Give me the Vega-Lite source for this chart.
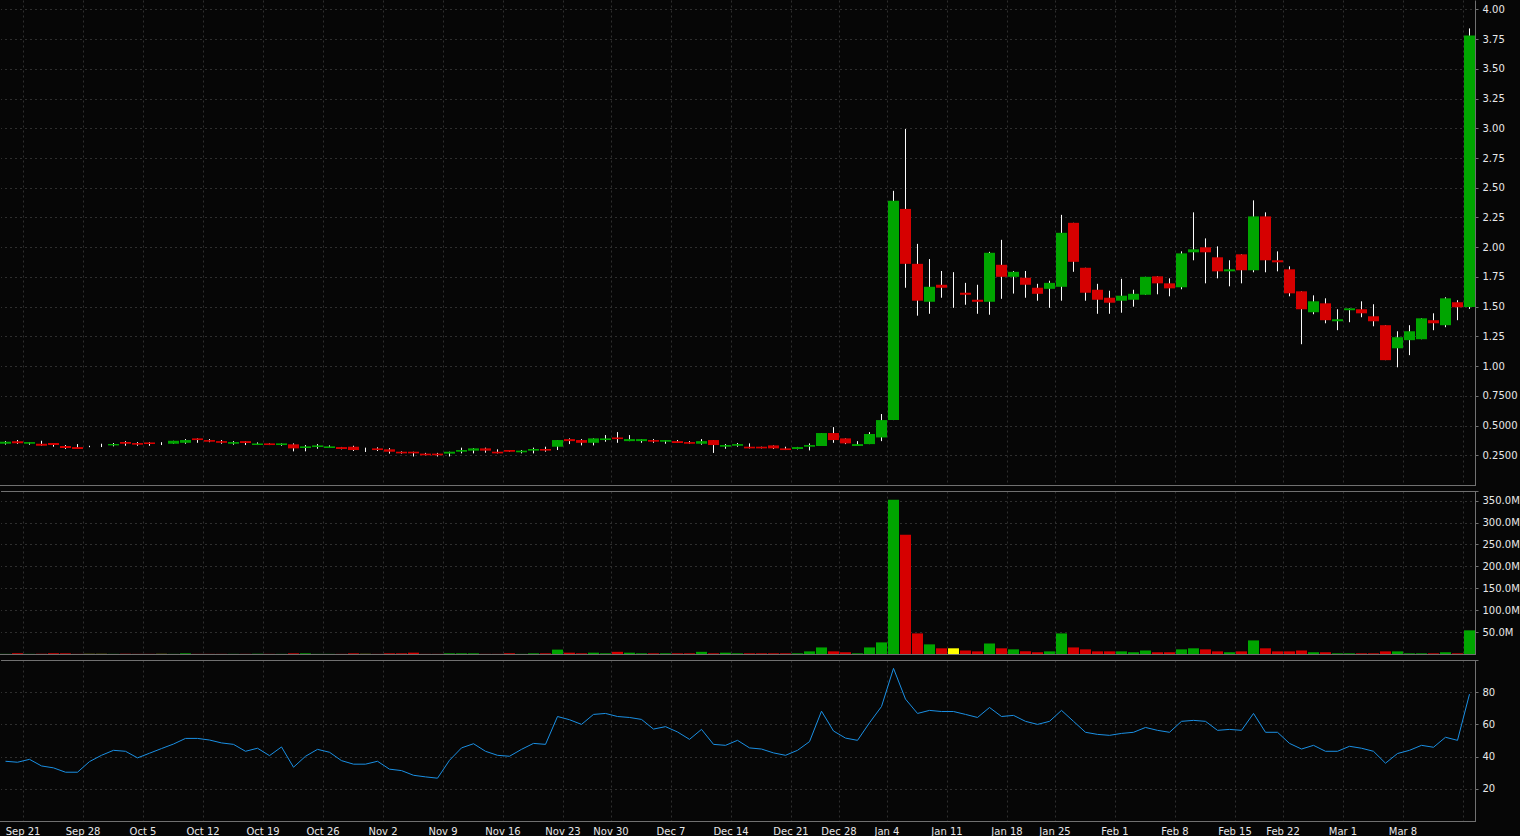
{
  "$schema": "https://vega.github.io/schema/vega-lite/v6.json",
  "background": "#060606",
  "padding": 0,
  "spacing": 5,
  "config": {
    "view": {"stroke": null},
    "axis": {
      "labelFont": "DejaVu Sans",
      "labelFontSize": 10,
      "labelColor": "#e8e8e8",
      "domainColor": "#707070",
      "tickColor": "#707070",
      "gridColor": "#2e2e2e",
      "gridDash": [2, 3],
      "gridWidth": 1,
      "labelOverlap": false
    }
  },
  "data": {
    "values": [
      {"d":"2020-09-17","o":0.347,"h":0.370,"l":0.340,"c":0.364,"v":0.3,"r":37.1},
      {"d":"2020-09-18","o":0.369,"h":0.378,"l":0.346,"c":0.352,"v":1.5,"r":36.5},
      {"d":"2020-09-21","o":0.347,"h":0.361,"l":0.339,"c":0.361,"v":0.3,"r":38.3},
      {"d":"2020-09-22","o":0.347,"h":0.372,"l":0.330,"c":0.330,"v":0.3,"r":34.2},
      {"d":"2020-09-23","o":0.353,"h":0.353,"l":0.322,"c":0.336,"v":1.5,"r":33.0},
      {"d":"2020-09-24","o":0.328,"h":0.336,"l":0.303,"c":0.311,"v":1.5,"r":30.3},
      {"d":"2020-09-25","o":0.319,"h":0.344,"l":0.303,"c":0.303,"v":0.3,"r":30.3},
      {"d":"2020-09-28","o":0.322,"h":0.330,"l":0.318,"c":0.322,"v":0.3,"r":36.9},
      {"d":"2020-09-29","o":0.330,"h":0.347,"l":0.319,"c":0.330,"v":0.3,"r":40.8},
      {"d":"2020-09-30","o":0.333,"h":0.353,"l":0.325,"c":0.345,"v":0.3,"r":43.9},
      {"d":"2020-10-01","o":0.361,"h":0.369,"l":0.330,"c":0.347,"v":0.3,"r":43.3},
      {"d":"2020-10-02","o":0.353,"h":0.361,"l":0.330,"c":0.339,"v":0.3,"r":39.2},
      {"d":"2020-10-05","o":0.358,"h":0.360,"l":0.330,"c":0.345,"v":0.3,"r":42.1},
      {"d":"2020-10-06","o":0.345,"h":0.360,"l":0.336,"c":0.345,"v":0.3,"r":45.0},
      {"d":"2020-10-07","o":0.347,"h":0.372,"l":0.347,"c":0.372,"v":0.3,"r":47.8},
      {"d":"2020-10-08","o":0.355,"h":0.386,"l":0.347,"c":0.378,"v":1.5,"r":51.3},
      {"d":"2020-10-09","o":0.392,"h":0.392,"l":0.355,"c":0.378,"v":0.3,"r":51.3},
      {"d":"2020-10-12","o":0.378,"h":0.386,"l":0.360,"c":0.364,"v":0.3,"r":50.3},
      {"d":"2020-10-13","o":0.369,"h":0.378,"l":0.347,"c":0.355,"v":0.3,"r":48.5},
      {"d":"2020-10-14","o":0.347,"h":0.369,"l":0.339,"c":0.361,"v":0.3,"r":47.6},
      {"d":"2020-10-15","o":0.369,"h":0.369,"l":0.336,"c":0.353,"v":0.3,"r":43.3},
      {"d":"2020-10-16","o":0.336,"h":0.358,"l":0.336,"c":0.350,"v":0.3,"r":45.2},
      {"d":"2020-10-19","o":0.350,"h":0.350,"l":0.336,"c":0.336,"v":0.3,"r":40.6},
      {"d":"2020-10-20","o":0.336,"h":0.350,"l":0.330,"c":0.350,"v":0.3,"r":46.0},
      {"d":"2020-10-21","o":0.342,"h":0.350,"l":0.283,"c":0.308,"v":1.5,"r":33.4},
      {"d":"2020-10-22","o":0.311,"h":0.336,"l":0.283,"c":0.325,"v":1.5,"r":40.2},
      {"d":"2020-10-23","o":0.319,"h":0.344,"l":0.305,"c":0.333,"v":0.3,"r":44.5},
      {"d":"2020-10-26","o":0.311,"h":0.333,"l":0.311,"c":0.325,"v":0.3,"r":42.7},
      {"d":"2020-10-27","o":0.319,"h":0.320,"l":0.300,"c":0.303,"v":0.3,"r":37.5},
      {"d":"2020-10-28","o":0.322,"h":0.330,"l":0.286,"c":0.294,"v":1.5,"r":35.3},
      {"d":"2020-10-29","o":0.290,"h":0.314,"l":0.278,"c":0.290,"v":0.3,"r":35.3},
      {"d":"2020-10-30","o":0.308,"h":0.317,"l":0.286,"c":0.294,"v":0.3,"r":37.1},
      {"d":"2020-11-02","o":0.300,"h":0.310,"l":0.264,"c":0.280,"v":1.5,"r":32.2},
      {"d":"2020-11-03","o":0.280,"h":0.283,"l":0.264,"c":0.266,"v":1.5,"r":31.3},
      {"d":"2020-11-04","o":0.280,"h":0.280,"l":0.240,"c":0.266,"v":3,"r":28.4},
      {"d":"2020-11-05","o":0.264,"h":0.270,"l":0.250,"c":0.250,"v":0.3,"r":27.4},
      {"d":"2020-11-06","o":0.264,"h":0.270,"l":0.240,"c":0.250,"v":0.3,"r":26.6},
      {"d":"2020-11-09","o":0.264,"h":0.280,"l":0.240,"c":0.280,"v":1.5,"r":37.7},
      {"d":"2020-11-10","o":0.280,"h":0.314,"l":0.266,"c":0.294,"v":1.5,"r":45.4},
      {"d":"2020-11-11","o":0.289,"h":0.310,"l":0.266,"c":0.308,"v":1.5,"r":48.0},
      {"d":"2020-11-12","o":0.308,"h":0.314,"l":0.272,"c":0.289,"v":0.3,"r":43.3},
      {"d":"2020-11-13","o":0.280,"h":0.300,"l":0.266,"c":0.266,"v":0.3,"r":40.8},
      {"d":"2020-11-16","o":0.294,"h":0.294,"l":0.280,"c":0.280,"v":1.5,"r":40.2},
      {"d":"2020-11-17","o":0.275,"h":0.294,"l":0.266,"c":0.289,"v":0.3,"r":44.5},
      {"d":"2020-11-18","o":0.289,"h":0.314,"l":0.266,"c":0.303,"v":1.5,"r":48.2},
      {"d":"2020-11-19","o":0.303,"h":0.322,"l":0.280,"c":0.289,"v":1.5,"r":47.6},
      {"d":"2020-11-20","o":0.322,"h":0.378,"l":0.294,"c":0.378,"v":10,"r":64.9},
      {"d":"2020-11-23","o":0.386,"h":0.392,"l":0.344,"c":0.369,"v":3,"r":62.9},
      {"d":"2020-11-24","o":0.378,"h":0.386,"l":0.333,"c":0.355,"v":1.5,"r":60.0},
      {"d":"2020-11-25","o":0.355,"h":0.392,"l":0.333,"c":0.392,"v":3,"r":66.2},
      {"d":"2020-11-27","o":0.378,"h":0.420,"l":0.364,"c":0.392,"v":1.5,"r":66.8},
      {"d":"2020-11-30","o":0.400,"h":0.445,"l":0.355,"c":0.386,"v":5,"r":64.9},
      {"d":"2020-12-01","o":0.369,"h":0.420,"l":0.369,"c":0.386,"v":3,"r":64.3},
      {"d":"2020-12-02","o":0.369,"h":0.386,"l":0.355,"c":0.386,"v":1.5,"r":63.1},
      {"d":"2020-12-03","o":0.378,"h":0.386,"l":0.355,"c":0.364,"v":1.5,"r":57.1},
      {"d":"2020-12-04","o":0.364,"h":0.378,"l":0.347,"c":0.378,"v":1.5,"r":58.6},
      {"d":"2020-12-07","o":0.369,"h":0.378,"l":0.353,"c":0.353,"v":1.5,"r":55.3},
      {"d":"2020-12-08","o":0.361,"h":0.369,"l":0.347,"c":0.347,"v":1.5,"r":50.7},
      {"d":"2020-12-09","o":0.347,"h":0.386,"l":0.339,"c":0.369,"v":5,"r":56.9},
      {"d":"2020-12-10","o":0.378,"h":0.378,"l":0.270,"c":0.336,"v":1.5,"r":47.6},
      {"d":"2020-12-11","o":0.322,"h":0.344,"l":0.305,"c":0.336,"v":3,"r":47.0},
      {"d":"2020-12-14","o":0.330,"h":0.353,"l":0.322,"c":0.344,"v":1.5,"r":50.1},
      {"d":"2020-12-15","o":0.322,"h":0.350,"l":0.308,"c":0.308,"v":1.5,"r":45.4},
      {"d":"2020-12-16","o":0.322,"h":0.322,"l":0.308,"c":0.308,"v":1.5,"r":44.7},
      {"d":"2020-12-17","o":0.333,"h":0.333,"l":0.303,"c":0.308,"v":1.5,"r":42.3},
      {"d":"2020-12-18","o":0.308,"h":0.322,"l":0.294,"c":0.294,"v":1.5,"r":40.8},
      {"d":"2020-12-21","o":0.303,"h":0.320,"l":0.300,"c":0.319,"v":1.5,"r":43.9},
      {"d":"2020-12-22","o":0.322,"h":0.350,"l":0.291,"c":0.336,"v":6,"r":49.3},
      {"d":"2020-12-23","o":0.328,"h":0.437,"l":0.328,"c":0.437,"v":15,"r":68.2},
      {"d":"2020-12-24","o":0.437,"h":0.487,"l":0.355,"c":0.378,"v":6,"r":55.9},
      {"d":"2020-12-28","o":0.392,"h":0.392,"l":0.344,"c":0.350,"v":4,"r":51.5},
      {"d":"2020-12-29","o":0.328,"h":0.369,"l":0.328,"c":0.344,"v":1.5,"r":50.1},
      {"d":"2020-12-30","o":0.344,"h":0.445,"l":0.344,"c":0.429,"v":15,"r":61.0},
      {"d":"2020-12-31","o":0.400,"h":0.597,"l":0.369,"c":0.546,"v":26.5,"r":71.1},
      {"d":"2021-01-04","o":0.546,"h":2.474,"l":0.546,"c":2.390,"v":352,"r":94.8},
      {"d":"2021-01-05","o":2.322,"h":2.994,"l":1.659,"c":1.860,"v":272,"r":75.7},
      {"d":"2021-01-06","o":1.860,"h":2.028,"l":1.424,"c":1.550,"v":47,"r":66.8},
      {"d":"2021-01-07","o":1.541,"h":1.900,"l":1.440,"c":1.667,"v":22,"r":68.7},
      {"d":"2021-01-08","o":1.684,"h":1.800,"l":1.575,"c":1.659,"v":13,"r":68.0},
      {"d":"2021-01-11","o":1.650,"h":1.790,"l":1.490,"c":1.650,"v":13,"r":68.0},
      {"d":"2021-01-12","o":1.617,"h":1.700,"l":1.516,"c":1.600,"v":8,"r":66.2},
      {"d":"2021-01-13","o":1.558,"h":1.684,"l":1.440,"c":1.541,"v":6,"r":64.3},
      {"d":"2021-01-14","o":1.541,"h":1.961,"l":1.432,"c":1.953,"v":24,"r":70.5},
      {"d":"2021-01-15","o":1.852,"h":2.062,"l":1.566,"c":1.751,"v":13,"r":64.9},
      {"d":"2021-01-19","o":1.751,"h":1.800,"l":1.610,"c":1.793,"v":10.6,"r":65.6},
      {"d":"2021-01-20","o":1.743,"h":1.800,"l":1.575,"c":1.684,"v":6,"r":61.9},
      {"d":"2021-01-21","o":1.659,"h":1.692,"l":1.550,"c":1.608,"v":4,"r":60.0},
      {"d":"2021-01-22","o":1.650,"h":1.718,"l":1.490,"c":1.700,"v":6,"r":61.9},
      {"d":"2021-01-25","o":1.667,"h":2.272,"l":1.550,"c":2.121,"v":47,"r":68.7},
      {"d":"2021-01-26","o":2.205,"h":2.205,"l":1.793,"c":1.877,"v":15,"r":61.9},
      {"d":"2021-01-27","o":1.827,"h":1.827,"l":1.550,"c":1.617,"v":10.6,"r":55.1},
      {"d":"2021-01-28","o":1.642,"h":1.692,"l":1.440,"c":1.558,"v":6,"r":53.8},
      {"d":"2021-01-29","o":1.575,"h":1.634,"l":1.440,"c":1.533,"v":6,"r":53.2},
      {"d":"2021-02-01","o":1.550,"h":1.734,"l":1.449,"c":1.592,"v":6,"r":54.4},
      {"d":"2021-02-02","o":1.558,"h":1.642,"l":1.500,"c":1.608,"v":4,"r":55.1},
      {"d":"2021-02-03","o":1.600,"h":1.751,"l":1.600,"c":1.751,"v":8,"r":58.1},
      {"d":"2021-02-04","o":1.755,"h":1.755,"l":1.604,"c":1.696,"v":4,"r":56.3},
      {"d":"2021-02-05","o":1.696,"h":1.738,"l":1.587,"c":1.654,"v":4,"r":55.1},
      {"d":"2021-02-08","o":1.663,"h":1.965,"l":1.646,"c":1.948,"v":10.6,"r":61.9},
      {"d":"2021-02-09","o":1.957,"h":2.293,"l":1.890,"c":1.982,"v":13,"r":62.5},
      {"d":"2021-02-10","o":1.999,"h":2.074,"l":1.696,"c":1.957,"v":10.6,"r":61.9},
      {"d":"2021-02-11","o":1.915,"h":2.007,"l":1.738,"c":1.797,"v":6,"r":56.3},
      {"d":"2021-02-12","o":1.797,"h":1.890,"l":1.671,"c":1.814,"v":4,"r":56.9},
      {"d":"2021-02-16","o":1.940,"h":1.940,"l":1.696,"c":1.806,"v":6,"r":56.3},
      {"d":"2021-02-17","o":1.806,"h":2.394,"l":1.789,"c":2.259,"v":31,"r":66.8},
      {"d":"2021-02-18","o":2.259,"h":2.293,"l":1.789,"c":1.890,"v":13,"r":55.1},
      {"d":"2021-02-19","o":1.890,"h":1.965,"l":1.797,"c":1.873,"v":6,"r":55.1},
      {"d":"2021-02-22","o":1.814,"h":1.839,"l":1.587,"c":1.612,"v":6,"r":48.2},
      {"d":"2021-02-23","o":1.629,"h":1.629,"l":1.184,"c":1.478,"v":8,"r":44.7},
      {"d":"2021-02-24","o":1.453,"h":1.595,"l":1.436,"c":1.545,"v":4,"r":47.0},
      {"d":"2021-02-25","o":1.528,"h":1.570,"l":1.360,"c":1.386,"v":4,"r":43.3},
      {"d":"2021-02-26","o":1.377,"h":1.478,"l":1.302,"c":1.394,"v":1.5,"r":43.3},
      {"d":"2021-03-01","o":1.470,"h":1.486,"l":1.369,"c":1.486,"v":1.5,"r":46.4},
      {"d":"2021-03-02","o":1.478,"h":1.545,"l":1.411,"c":1.444,"v":1.5,"r":45.2},
      {"d":"2021-03-03","o":1.419,"h":1.520,"l":1.335,"c":1.377,"v":1.5,"r":43.3},
      {"d":"2021-03-04","o":1.344,"h":1.344,"l":1.050,"c":1.050,"v":6,"r":35.9},
      {"d":"2021-03-05","o":1.150,"h":1.293,"l":0.990,"c":1.243,"v":6,"r":41.9},
      {"d":"2021-03-08","o":1.218,"h":1.344,"l":1.092,"c":1.293,"v":1.5,"r":43.9},
      {"d":"2021-03-09","o":1.226,"h":1.402,"l":1.226,"c":1.402,"v":1.5,"r":47.0},
      {"d":"2021-03-10","o":1.386,"h":1.444,"l":1.302,"c":1.360,"v":1.5,"r":45.8},
      {"d":"2021-03-11","o":1.344,"h":1.579,"l":1.327,"c":1.570,"v":4,"r":52.0},
      {"d":"2021-03-12","o":1.537,"h":1.554,"l":1.386,"c":1.495,"v":1.5,"r":50.1},
      {"d":"2021-03-15","o":1.497,"h":3.840,"l":1.480,"c":3.780,"v":54,"r":78.8}
    ]
  },
  "vconcat": [
    {
      "width": 1474,
      "height": 485,
      "layer": [
        {
          "mark": {"type": "rule", "color": "#ffffff", "strokeWidth": 1},
          "encoding": {
            "x": {"field": "d", "type": "ordinal", "scale": {"type": "band", "paddingInner": 0.0833, "paddingOuter": 0.0417, "rangeMin": -1.5, "rangeMax": 1474.5},
                  "axis": {"title": null, "values": ["2020-09-21","2020-09-28","2020-10-05","2020-10-12","2020-10-19","2020-10-26","2020-11-02","2020-11-09","2020-11-16","2020-11-23","2020-11-30","2020-12-07","2020-12-14","2020-12-21","2020-12-28","2021-01-04","2021-01-11","2021-01-19","2021-01-25","2021-02-01","2021-02-08","2021-02-16","2021-02-22","2021-03-01","2021-03-08","2021-03-15"], "bandPosition": -0.09, "labels": false, "ticks": false, "grid": true, "domain": true}},
            "y": {"field": "l", "type": "quantitative", "scale": {"domain": [0, 4.079], "nice": false, "zero": false},
                  "axis": {"title": null, "orient": "right", "values": [0.25,0.5,0.75,1,1.25,1.5,1.75,2,2.25,2.5,2.75,3,3.25,3.5,3.75,4], "labelExpr": "datum.value >= 1 ? format(datum.value, '.2f') : format(datum.value, '.4f')", "labelOverlap": false, "tickSize": 3, "labelPadding": 4, "grid": true, "domain": true}},
            "y2": {"field": "h"}
          }
        },
        {
          "mark": {"type": "bar", "minBandSize": 2},
          "encoding": {
            "x": {"field": "d", "type": "ordinal",
                  "axis": {"title": null, "values": ["2020-09-21","2020-09-28","2020-10-05","2020-10-12","2020-10-19","2020-10-26","2020-11-02","2020-11-09","2020-11-16","2020-11-23","2020-11-30","2020-12-07","2020-12-14","2020-12-21","2020-12-28","2021-01-04","2021-01-11","2021-01-19","2021-01-25","2021-02-01","2021-02-08","2021-02-16","2021-02-22","2021-03-01","2021-03-08","2021-03-15"], "bandPosition": -0.09, "labels": false, "ticks": false, "grid": true, "domain": true}},
            "y": {"field": "o", "type": "quantitative",
                  "axis": {"title": null, "orient": "right", "values": [0.25,0.5,0.75,1,1.25,1.5,1.75,2,2.25,2.5,2.75,3,3.25,3.5,3.75,4], "labelExpr": "datum.value >= 1 ? format(datum.value, '.2f') : format(datum.value, '.4f')", "labelOverlap": false, "tickSize": 3, "labelPadding": 4, "grid": true, "domain": true}},
            "y2": {"field": "c"},
            "color": {"condition": [{"test": "datum.c > datum.o", "value": "#00a500"}, {"test": "datum.c < datum.o", "value": "#d60000"}], "value": "#ffff00"}
          }
        }
      ]
    },
    {
      "width": 1474,
      "height": 163,
      "mark": {"type": "bar"},
      "encoding": {
        "x": {"field": "d", "type": "ordinal", "scale": {"type": "band", "paddingInner": 0.0833, "paddingOuter": 0.0417, "rangeMin": -1.5, "rangeMax": 1474.5},
              "axis": {"title": null, "values": ["2020-09-21","2020-09-28","2020-10-05","2020-10-12","2020-10-19","2020-10-26","2020-11-02","2020-11-09","2020-11-16","2020-11-23","2020-11-30","2020-12-07","2020-12-14","2020-12-21","2020-12-28","2021-01-04","2021-01-11","2021-01-19","2021-01-25","2021-02-01","2021-02-08","2021-02-16","2021-02-22","2021-03-01","2021-03-08","2021-03-15"], "bandPosition": -0.09, "labels": false, "ticks": false, "grid": true, "domain": true}},
        "y": {"field": "v", "type": "quantitative", "scale": {"domain": [0, 372], "nice": false},
              "axis": {"title": null, "orient": "right", "values": [50,100,150,200,250,300,350,372], "labelExpr": "datum.value > 360 ? '' : format(datum.value, '.1f') + 'M'", "tickSize": 3, "labelPadding": 4, "grid": true, "domain": true,
                       "labelFontSize": {"condition": {"test": "datum.value > 360", "value": 0}, "value": 10},
                       "gridColor": {"condition": {"test": "datum.value > 360", "value": "#707070"}, "value": "#2e2e2e"},
                       "gridDash": {"condition": {"test": "datum.value > 360", "value": []}, "value": [2, 3]}}},
        "color": {"condition": [{"test": "datum.c > datum.o", "value": "#00a500"}, {"test": "datum.c < datum.o", "value": "#d60000"}], "value": "#ffff00"}
      }
    },
    {
      "width": 1474,
      "height": 161,
      "mark": {"type": "line", "color": "#1a8fe3", "strokeWidth": 1},
      "encoding": {
        "x": {"field": "d", "type": "ordinal", "scale": {"type": "band", "paddingInner": 0.0833, "paddingOuter": 0.0417, "rangeMin": -1.5, "rangeMax": 1474.5},
              "axis": {"title": null, "values": ["2020-09-21","2020-09-28","2020-10-05","2020-10-12","2020-10-19","2020-10-26","2020-11-02","2020-11-09","2020-11-16","2020-11-23","2020-11-30","2020-12-07","2020-12-14","2020-12-21","2020-12-28","2021-01-04","2021-01-11","2021-01-19","2021-01-25","2021-02-01","2021-02-08","2021-02-16","2021-02-22","2021-03-01","2021-03-08","2021-03-15"], "bandPosition": -0.09, "ticks": false, "grid": true, "domain": true, "labelAngle": 0, "labelAlign": "center", "labelOverlap": false, "labelFlush": false, "labelPadding": 5, "labelOffset": -6.5,
                       "labelExpr": "datum.value == '2021-01-19' ? 'Jan 18' : datum.value == '2021-02-16' ? 'Feb 15' : datum.value == '2021-03-15' ? '' : timeFormat(toDate(datum.value + 'T12:00:00'), '%b %-d')"}},
        "y": {"field": "r", "type": "quantitative", "scale": {"domain": [0, 100], "nice": false},
              "axis": {"title": null, "orient": "right", "values": [20, 40, 60, 80, 100], "labelExpr": "datum.value > 99 ? '' : datum.label", "tickSize": 3, "labelPadding": 4, "grid": true, "domain": true,
                       "labelFontSize": {"condition": {"test": "datum.value > 99", "value": 0}, "value": 10},
                       "gridColor": {"condition": {"test": "datum.value > 99", "value": "#707070"}, "value": "#2e2e2e"},
                       "gridDash": {"condition": {"test": "datum.value > 99", "value": []}, "value": [2, 3]}}}
      }
    }
  ]
}
